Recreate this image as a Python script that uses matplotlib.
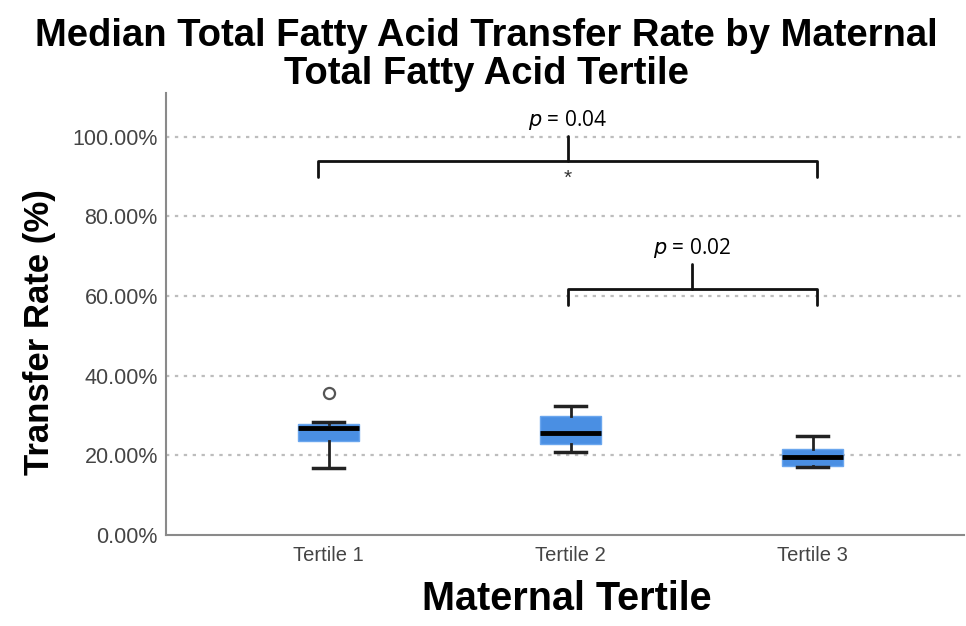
import numpy as np
import matplotlib
matplotlib.use("Agg")
import matplotlib.pyplot as plt
from matplotlib.ticker import FuncFormatter

plt.rcParams['font.family'] = ['Liberation Sans', 'DejaVu Sans']

# box statistics (transfer rate, %)
tertiles = ["Tertile 1", "Tertile 2", "Tertile 3"]
whis_lo = [16.8, 20.8, 17.1]
q1 = [23.5, 22.9, 17.3]
medians = [26.8, 25.6, 19.6]
q3 = [27.8, 29.8, 21.7]
whis_hi = [28.3, 32.3, 24.8]
outliers = [[35.6], [], []]

# significance brackets: (group a, group b, label, bracket height)
comparisons = [(0, 2, "0.04", 93.9), (1, 2, "0.02", 61.8)]

box_blue = "#4a8fe3"
grid_grey = "#bdbdbd"
text_grey = "#444444"

fig = plt.figure(figsize=(9.66, 6.26), dpi=100)
ax = fig.add_axes([0.172, 0.1454, 0.826, 0.706])

pos = np.arange(1, len(tertiles) + 1)
stats = []
for i, name in enumerate(tertiles):
    stats.append(dict(label=name, med=medians[i], q1=q1[i], q3=q3[i],
                      whislo=whis_lo[i], whishi=whis_hi[i], fliers=outliers[i]))

ax.bxp(stats, positions=pos, widths=0.25, patch_artist=True,
       boxprops=dict(facecolor=box_blue, edgecolor="#6aa6ee", linewidth=1),
       medianprops=dict(color="black", linewidth=3.5),
       whiskerprops=dict(color="#222222", linewidth=2),
       capprops=dict(color="#222222", linewidth=2.5),
       capwidths=0.13,
       flierprops=dict(marker="o", markerfacecolor="white", markeredgecolor="#555555",
                       markersize=8, markeredgewidth=1.6))

ax.set_xlim(0.328, 3.626)
ax.set_ylim(0, 111)
ax.set_yticks([0, 20, 40, 60, 80, 100])
ax.yaxis.set_major_formatter(FuncFormatter(lambda v, p: f"{v:.2f}%"))
ax.set_xticks(pos)
ax.set_xticklabels(tertiles)
ax.tick_params(axis='both', length=0, colors=text_grey)
ax.tick_params(axis='y', labelsize=15.5, pad=6)
ax.tick_params(axis='x', labelsize=14.5, pad=8)

for v in [20, 40, 60, 80, 100]:
    ax.axhline(v, color=grid_grey, linestyle=(0, (1.5, 2.5)), linewidth=1.6, zorder=0)

for s in ["top", "right"]:
    ax.spines[s].set_visible(False)
for s in ["left", "bottom"]:
    ax.spines[s].set_color("#8a8a8a")
    ax.spines[s].set_linewidth(1.5)

ax.set_ylabel("Transfer Rate (%)", fontsize=25, fontweight="bold", color="black")
ax.yaxis.set_label_coords(-0.138, 0.46)
ax.set_xlabel("Maternal Tertile", fontsize=28.5, fontweight="bold", color="black")
ax.xaxis.set_label_coords(0.5025, -0.101)

fig.text(0.504, 0.972, "Median Total Fatty Acid Transfer Rate by Maternal\nTotal Fatty Acid Tertile",
         ha="center", va="top", fontsize=27.5, fontweight="bold", linespacing=1.08)

# brackets
for a, b, pval, h in comparisons:
    xa = pos[a] - (0.043 if a == 0 else 0.012)
    xb = pos[b] + 0.019
    xm = (xa + xb) / 2
    drop = 4.0
    ax.plot([xa, xa, xb, xb], [h - drop, h, h, h - drop], color="#111111",
            linewidth=2, solid_joinstyle="round", solid_capstyle="round", zorder=5)
    ax.plot([xm, xm], [h, h + 6.2], color="#111111", linewidth=2,
            solid_capstyle="round", zorder=5)
    ax.text(xm, h + 7.2, r"$\it{p}$" + " = " + pval, ha="center", va="bottom",
            fontsize=15, family=["Open Sans", "DejaVu Sans"], color="black")

ax.text((pos[0] - 0.043 + pos[2] + 0.019) / 2, 89.5, "*", ha="center", va="center",
        fontsize=15, color="#333333")

fig.savefig("out.png", dpi=100)
